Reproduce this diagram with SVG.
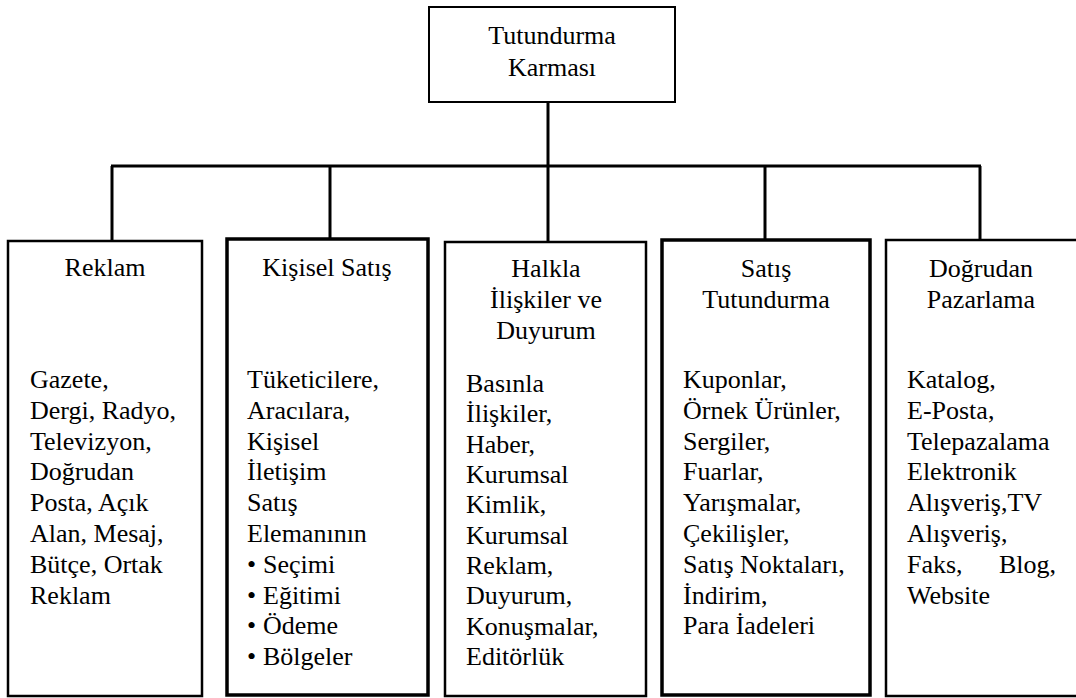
<svg xmlns="http://www.w3.org/2000/svg" width="1076" height="698" viewBox="0 0 1076 698">
  <style>
    .bg { fill: #ffffff; }
    .box { fill: #ffffff; stroke: #000000; stroke-width: 2.5; }
    .box-bold { fill: #ffffff; stroke: #000000; stroke-width: 3.5; }
    .root { fill: #ffffff; stroke: #000000; stroke-width: 2; }
    .link { fill: none; stroke: #000000; stroke-width: 3; }
    text { font-family: "Liberation Serif", "Times New Roman", serif; font-size: 26px; fill: #000000; }
    .title { text-anchor: middle; }
    .end { text-anchor: end; }
  </style>

  <rect class="bg" x="0" y="0" width="1076" height="698"/>

  <!-- tree connectors: trunk from the root, the bus line and one drop per category -->
  <g id="connectors">
    <line class="link" x1="548" y1="102" x2="548" y2="241"/>
    <line class="link" x1="111" y1="166" x2="981" y2="166"/>
    <line class="link" x1="112" y1="166" x2="112" y2="241"/>
    <line class="link" x1="330" y1="166" x2="330" y2="239"/>
    <line class="link" x1="765" y1="166" x2="765" y2="240"/>
    <line class="link" x1="980" y1="166" x2="980" y2="240"/>
  </g>

  <!-- root -->
  <g id="node-root">
    <rect class="root" x="429" y="7" width="246" height="95"/>
    <text class="title" x="552" y="44">Tutundurma</text>
    <text class="title" x="552" y="76">Karması</text>
  </g>

  <!-- Reklam -->
  <g id="node-reklam">
    <rect class="box" x="8" y="241" width="194" height="455"/>
    <text class="title" x="105" y="276">Reklam</text>
    <text x="30" y="388">Gazete,</text>
    <text x="30" y="418.8">Dergi, Radyo,</text>
    <text x="30" y="449.6">Televizyon,</text>
    <text x="30" y="480.4">Doğrudan</text>
    <text x="30" y="511.2">Posta, Açık</text>
    <text x="30" y="542">Alan, Mesaj,</text>
    <text x="30" y="572.8">Bütçe, Ortak</text>
    <text x="30" y="603.6">Reklam</text>
  </g>

  <!-- Kişisel Satış -->
  <g id="node-kisisel-satis">
    <rect class="box-bold" x="227" y="239" width="201" height="456"/>
    <text class="title" x="327" y="276">Kişisel Satış</text>
    <text x="247" y="388">Tüketicilere,</text>
    <text x="247" y="418.8">Aracılara,</text>
    <text x="247" y="449.6">Kişisel</text>
    <text x="247" y="480.4">İletişim</text>
    <text x="247" y="511.2">Satış</text>
    <text x="247" y="542">Elemanının</text>
    <text x="247" y="572.8">•</text>
    <text x="263" y="572.8">Seçimi</text>
    <text x="247" y="603.6">•</text>
    <text x="263" y="603.6">Eğitimi</text>
    <text x="247" y="634.4">•</text>
    <text x="263" y="634.4">Ödeme</text>
    <text x="247" y="665.2">•</text>
    <text x="263" y="665.2">Bölgeler</text>
  </g>

  <!-- Halkla İlişkiler ve Duyurum -->
  <g id="node-halkla-iliskiler">
    <rect class="box" x="445" y="242" width="201" height="454"/>
    <text class="title" x="546" y="277">Halkla</text>
    <text class="title" x="546" y="307.8">İlişkiler ve</text>
    <text class="title" x="546" y="338.6">Duyurum</text>
    <text x="466" y="392">Basınla</text>
    <text x="466" y="422.4">İlişkiler,</text>
    <text x="466" y="452.7">Haber,</text>
    <text x="466" y="483">Kurumsal</text>
    <text x="466" y="513.4">Kimlik,</text>
    <text x="466" y="543.7">Kurumsal</text>
    <text x="466" y="574.1">Reklam,</text>
    <text x="466" y="604.4">Duyurum,</text>
    <text x="466" y="634.8">Konuşmalar,</text>
    <text x="466" y="665.2">Editörlük</text>
  </g>

  <!-- Satış Tutundurma -->
  <g id="node-satis-tutundurma">
    <rect class="box-bold" x="662" y="240" width="208" height="455"/>
    <text class="title" x="766" y="277">Satış</text>
    <text class="title" x="766" y="307.8">Tutundurma</text>
    <text x="683" y="388">Kuponlar,</text>
    <text x="683" y="418.8">Örnek Ürünler,</text>
    <text x="683" y="449.6">Sergiler,</text>
    <text x="683" y="480.4">Fuarlar,</text>
    <text x="683" y="511.2">Yarışmalar,</text>
    <text x="683" y="542">Çekilişler,</text>
    <text x="683" y="572.8">Satış Noktaları,</text>
    <text x="683" y="603.6">İndirim,</text>
    <text x="683" y="634.4">Para İadeleri</text>
  </g>

  <!-- Doğrudan Pazarlama (box runs past the right edge) -->
  <g id="node-dogrudan-pazarlama">
    <rect class="box" x="886" y="240" width="200" height="456"/>
    <text class="title" x="981" y="277">Doğrudan</text>
    <text class="title" x="981" y="307.8">Pazarlama</text>
    <text x="907" y="388">Katalog,</text>
    <text x="907" y="418.8">E-Posta,</text>
    <text x="907" y="449.6">Telepazalama</text>
    <text x="907" y="480.4">Elektronik</text>
    <text x="907" y="511.2">Alışveriş,TV</text>
    <text x="907" y="542">Alışveriş,</text>
    <text x="907" y="572.8">Faks,</text>
    <text class="end" x="1056" y="572.8">Blog,</text>
    <text x="907" y="603.6">Website</text>
  </g>
</svg>
